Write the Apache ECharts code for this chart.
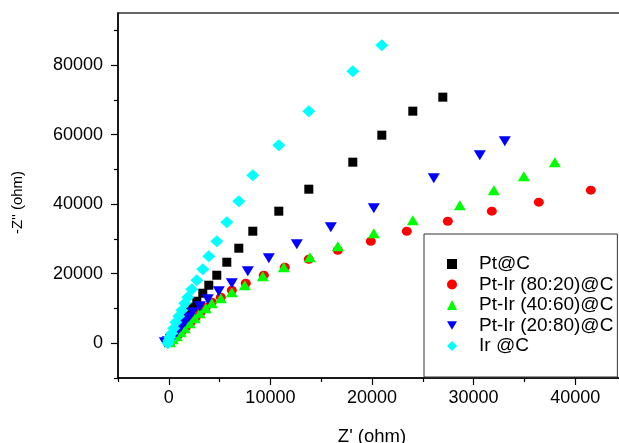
<!DOCTYPE html>
<html><head><meta charset="utf-8">
<script src="https://cdn.jsdelivr.net/npm/echarts@6/dist/echarts.min.js"></script>
<style>html,body{margin:0;padding:0;background:#fff}#c{width:619px;height:443px}</style>
</head><body><div id="c"></div>
<script>
const seriesNames = ['Pt@C', 'Pt-Ir (80:20)@C', 'Pt-Ir (40:60)@C', 'Pt-Ir (20:80)@C', 'Ir @C'];

// Z' (ohm) and -Z'' (ohm) per series
const ptC_re = [26969,24016,20965,18110,13780,10827,8268,6890,5709,4724,3937,3347,2756,2362,2067,1772,1476,1181,886,591,295,98];
const ptC_im = [70791,66763,59856,52086,44317,37986,32230,27338,23309,19568,16691,14388,12086,10360,8921,7482,6043,4604,3453,2302,1151,576];

const ptIr8020_re = [41537,36419,31793,27462,23426,19883,16635,13780,11418,9351,7579,6201,5118,4232,3642,3150,2658,2165,1673,1280,886,492,197];
const ptIr8020_im = [44029,40576,37986,35108,32230,29353,26763,24173,21871,19568,17266,15252,13237,11799,10360,8921,7482,6043,4604,3453,2302,1439,576];

const ptIr4060_re = [37994,34943,31990,28643,24016,20178,16635,13878,11319,9252,7481,6201,5118,4232,3642,3051,2559,2067,1575,1181,787,394,98];
const ptIr4060_im = [52086,48058,44029,39712,35396,31655,27914,24748,21871,19280,16691,14676,12950,11511,10072,8633,7194,5755,4317,3165,2014,1151,288];

const ptIr2080_re = [33071,30611,26083,20178,15945,12599,9843,7776,6201,4921,3839,3051,2362,1969,1575,1181,787,492,197,-98,-394];
const ptIr2080_im = [58130,54101,47482,38849,33381,28489,24460,20719,17266,14964,12662,10647,8921,7482,6043,4604,3165,2014,1151,576,288];

const irC_re = [20965,18110,13780,10827,8268,6890,5709,4724,3937,3347,2756,2264,1870,1575,1280,984,689,492,295,98,0,-98];
const irC_im = [85755,78273,66763,56978,48345,40863,34820,29353,25036,21295,18130,15540,13237,11511,9496,7770,6043,4317,2878,1727,863,0];

const xMajorTicks = [0, 10000, 20000, 30000, 40000];
const xMinorTicks = [-5000, 5000, 15000, 25000, 35000];
const yMajorTicks = [0, 20000, 40000, 60000, 80000];
const yMinorTicks = [-10000, 10000, 30000, 50000, 70000, 90000];

const FONT = "'Liberation Sans', Arial, sans-serif";
const pairs = (re, im) => re.map((x, i) => [x, im[i]]);

const seriesDefs = [
  {re: ptC_re, im: ptC_im, color: '#000000', symbol: 'rect', size: 9},
  {re: ptIr8020_re, im: ptIr8020_im, color: '#ff0000', symbol: 'circle', size: [10, 9]},
  {re: ptIr4060_re, im: ptIr4060_im, color: '#00ff00', symbol: 'triangle', size: [12, 10]},
  {re: ptIr2080_re, im: ptIr2080_im, color: '#0000ff', symbol: 'path://M0,0 L12,0 L6,10 Z', size: [12, 10]},
  {re: irC_re, im: irC_im, color: '#00ffff', symbol: 'diamond', size: [13, 12]}
];

const chart = echarts.init(document.getElementById('c'), null, {renderer: 'canvas'});

const tickLabel = {fontFamily: FONT, fontSize: 18, color: '#000', formatter: v => String(v)};

chart.setOption({
  animation: false,
  backgroundColor: '#fff',
  grid: {left: 118, top: 13, right: -7, bottom: 65, outerBoundsMode: 'none', containLabel: false,
         show: true, borderColor: '#333', borderWidth: 1.5, backgroundColor: 'transparent'},
  legend: {
    orient: 'vertical', left: 424, top: 234,
    padding: [20, 4, 21, 23], itemGap: 0.5, itemWidth: 10, itemHeight: 10,
    borderColor: '#333', borderWidth: 1, backgroundColor: '#fff', borderRadius: 0,
    textStyle: {fontFamily: FONT, fontSize: 19, color: '#000', lineHeight: 20, padding: [0, 0, 0, 17]},
    data: seriesNames
  },
  xAxis: [
    {
      type: 'value', min: -5000, max: 45000, position: 'bottom',
      axisLine: {show: true, onZero: false, lineStyle: {color: '#000', width: 1.5}},
      axisTick: {show: true, customValues: xMinorTicks, length: 4, lineStyle: {color: '#000', width: 1.2}},
      axisLabel: {show: false}, splitLine: {show: false}
    },
    {
      type: 'value', min: -5000, max: 45000, position: 'bottom',
      axisLine: {show: false, onZero: false},
      axisTick: {show: true, customValues: xMajorTicks, length: 7, lineStyle: {color: '#000', width: 1.2}},
      axisLabel: Object.assign({customValues: xMajorTicks, margin: 11}, tickLabel),
      splitLine: {show: false},
      name: "Z' (ohm)", nameLocation: 'middle', nameGap: 49,
      nameTextStyle: {fontFamily: FONT, fontSize: 18.5, color: '#000'}
    }
  ],
  yAxis: [
    {
      type: 'value', min: -10000, max: 95000, position: 'left',
      axisLine: {show: true, onZero: false, lineStyle: {color: '#000', width: 1.5}},
      axisTick: {show: true, customValues: yMinorTicks, length: 4, lineStyle: {color: '#000', width: 1.2}},
      axisLabel: {show: false}, splitLine: {show: false}
    },
    {
      type: 'value', min: -10000, max: 95000, position: 'left',
      axisLine: {show: false, onZero: false},
      axisTick: {show: true, customValues: yMajorTicks, length: 7, lineStyle: {color: '#000', width: 1.2}},
      axisLabel: Object.assign({customValues: yMajorTicks, margin: 15}, tickLabel),
      splitLine: {show: false},
      name: "-Z'' (ohm)", nameLocation: 'middle', nameGap: 93, nameRotate: 90,
      nameTextStyle: {fontFamily: FONT, fontSize: 15, color: '#000', padding: [0, 14, 0, 0]}
    }
  ],
  series: seriesDefs.map((d, i) => ({
    name: seriesNames[i], type: 'scatter', xAxisIndex: 0, yAxisIndex: 0,
    symbol: d.symbol, symbolSize: d.size,
    itemStyle: {color: d.color, opacity: 1},
    emphasis: {disabled: true},
    data: pairs(d.re, d.im)
  }))
});
</script></body></html>
